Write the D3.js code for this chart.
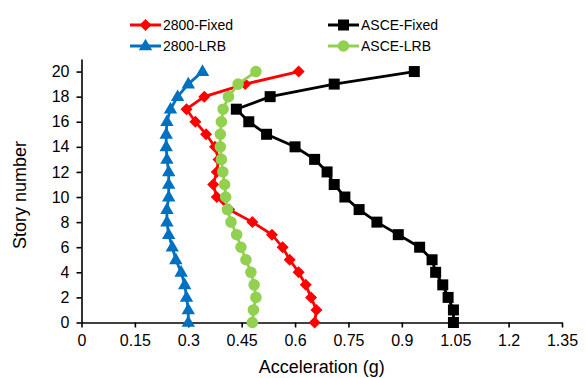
<!DOCTYPE html>
<html>
<head>
<meta charset="utf-8">
<script src="https://cdn.jsdelivr.net/npm/d3@7"></script>
<style>
  body { margin: 0; background: #fff; }
  svg { display: block; font-family: "Liberation Sans", Arial, sans-serif; }
</style>
</head>
<body>
<div id="chart"></div>
<script>
// story levels 0..20
const stories = d3.range(0, 21);

// peak floor acceleration (g), index = story number
const fixed2800 = [0.655, 0.66, 0.645, 0.63, 0.61, 0.585, 0.565, 0.535, 0.48, 0.415, 0.38,
  0.37, 0.38, 0.385, 0.375, 0.35, 0.32, 0.295, 0.345, 0.46, 0.61];
const fixedASCE = [1.045, 1.045, 1.03, 1.015, 0.995, 0.985, 0.95, 0.89, 0.83, 0.78, 0.74,
  0.71, 0.69, 0.655, 0.6, 0.52, 0.47, 0.435, 0.53, 0.71, 0.935];
const lrb2800 = [0.3, 0.3, 0.295, 0.29, 0.28, 0.265, 0.255, 0.245, 0.24, 0.24, 0.245,
  0.245, 0.245, 0.24, 0.238, 0.238, 0.24, 0.25, 0.27, 0.3, 0.34];
const lrbASCE = [0.48, 0.483, 0.49, 0.485, 0.476, 0.462, 0.448, 0.436, 0.42, 0.41, 0.405,
  0.402, 0.397, 0.393, 0.39, 0.39, 0.393, 0.398, 0.413, 0.44, 0.49];

const xTicks = [0, 0.15, 0.3, 0.45, 0.6, 0.75, 0.9, 1.05, 1.2, 1.35];
const yTicks = [0, 2, 4, 6, 8, 10, 12, 14, 16, 18, 20];

const series = [
  { name: '2800-Fixed', values: fixed2800, color: '#ff0000', symbol: 'diamond' },
  { name: 'ASCE-Fixed', values: fixedASCE, color: '#000000', symbol: 'square' },
  { name: '2800-LRB', values: lrb2800, color: '#0070c0', symbol: 'triangle' },
  { name: 'ASCE-LRB', values: lrbASCE, color: '#92d050', symbol: 'circle' },
];

const width = 587;
const height = 378;
const margin = { top: 59, right: 25, bottom: 55.5, left: 81.5 };

const svg = d3.select('#chart').append('svg')
  .attr('width', width)
  .attr('height', height);

const x = d3.scaleLinear()
  .domain([0, 1.35])
  .range([margin.left, width - margin.right]);
const y = d3.scaleLinear()
  .domain([0, 21])
  .range([height - margin.bottom, margin.top]);

// marker shape for a series
const marker = (sel, s) => {
  if (s.symbol === 'diamond') {
    sel.attr('d', d3.symbol(d3.symbolSquare, 72)())
      .attr('transform', d => `translate(${d[0]},${d[1]}) rotate(45)`);
  } else if (s.symbol === 'square') {
    sel.attr('d', d3.symbol(d3.symbolSquare, 121)())
      .attr('transform', d => `translate(${d[0]},${d[1]})`);
  } else if (s.symbol === 'triangle') {
    sel.attr('d', d3.symbol(d3.symbolTriangle, 78)())
      .attr('transform', d => `translate(${d[0]},${d[1] + 0.5})`);
  } else {
    sel.attr('d', d3.symbol(d3.symbolCircle, 105)())
      .attr('transform', d => `translate(${d[0]},${d[1]})`);
  }
};

// axes
const xAxis = svg.append('g')
  .attr('transform', `translate(0,${y(0)})`)
  .call(d3.axisBottom(x).tickValues(xTicks).tickSize(5).tickSizeOuter(0)
    .tickFormat(d => d3.format('~g')(d)));
const yAxis = svg.append('g')
  .attr('transform', `translate(${x(0)},0)`)
  .call(d3.axisLeft(y).tickValues(yTicks).tickSize(5).tickSizeOuter(0));

[xAxis, yAxis].forEach((g) => {
  g.selectAll('path, line').attr('stroke', '#000').attr('stroke-width', 1.6);
  g.selectAll('text').attr('font-size', 16).attr('fill', '#000')
    .attr('font-family', '"Liberation Sans", Arial, sans-serif');
});
xAxis.selectAll('text').attr('dy', '0.95em');
yAxis.selectAll('text').attr('x', -12);

// axis titles
svg.append('text')
  .attr('x', (x(0) + x(1.35)) / 2)
  .attr('y', 373)
  .attr('text-anchor', 'middle')
  .attr('font-size', 18)
  .text('Acceleration (g)');
svg.append('text')
  .attr('transform', `translate(26,${195}) rotate(-90)`)
  .attr('text-anchor', 'middle')
  .attr('font-size', 18)
  .text('Story number');

// series
const line = d3.line();
series.forEach((s) => {
  const pts = s.values.map((v, i) => [x(v), y(stories[i])]);
  svg.append('path')
    .attr('d', line(pts))
    .attr('fill', 'none')
    .attr('stroke', s.color)
    .attr('stroke-width', 2.8);
  svg.append('g').selectAll('path')
    .data(pts)
    .enter().append('path')
    .attr('fill', s.color)
    .call(marker, s);
});

// legend
const legendPos = [
  { x: 130, y: 25 }, { x: 328, y: 25 },
  { x: 130, y: 46 }, { x: 328, y: 46 },
];
series.forEach((s, i) => {
  const p = legendPos[i];
  const g = svg.append('g');
  g.append('line')
    .attr('x1', p.x).attr('x2', p.x + 31)
    .attr('y1', p.y).attr('y2', p.y)
    .attr('stroke', s.color)
    .attr('stroke-width', 3);
  g.append('path')
    .attr('fill', s.color)
    .call(sel => marker(sel.data([[p.x + 15.5, p.y]]), s));
  g.append('text')
    .attr('x', p.x + 33)
    .attr('y', p.y)
    .attr('dy', '0.35em')
    .attr('font-size', 14)
    .text(s.name);
});
</script>
</body>
</html>
